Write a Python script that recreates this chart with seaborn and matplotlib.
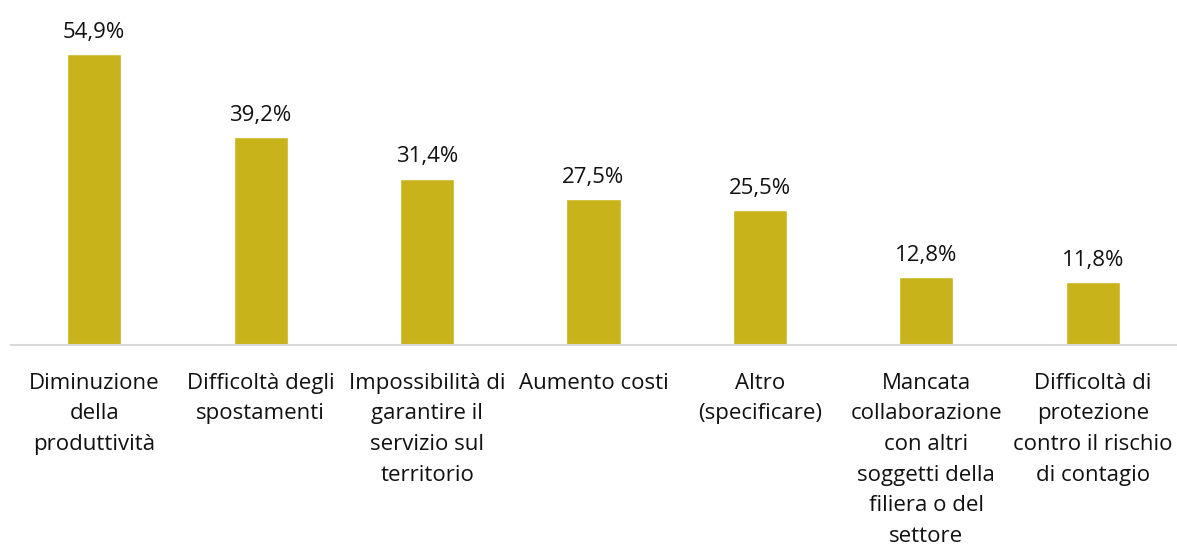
import matplotlib
matplotlib.use("Agg")
import matplotlib.pyplot as plt
import seaborn as sns
import pandas as pd

categories = [
    "Diminuzione\ndella\nproduttività",
    "Difficoltà degli\nspostamenti",
    "Impossibilità di\ngarantire il\nservizio sul\nterritorio",
    "Aumento costi",
    "Altro\n(specificare)",
    "Mancata\ncollaborazione\ncon altri\nsoggetti della\nfiliera o del\nsettore",
    "Difficoltà di\nprotezione\ncontro il rischio\ndi contagio",
]
values = [54.9, 39.2, 31.4, 27.5, 25.5, 12.8, 11.8]

sns.set_style("white")
plt.rcParams["font.family"] = ["Open Sans", "DejaVu Sans"]

df = pd.DataFrame({"cat": categories, "val": values})

fig = plt.figure(figsize=(11.77, 5.49), dpi=100)
ax = fig.add_axes([11 / 1177, 1 - 345 / 549, 1165 / 1177, 318 / 549])
sns.barplot(data=df, x="cat", y="val", color="#C8B41A", width=0.325,
            saturation=1, ax=ax)

for i, v in enumerate(values):
    ax.annotate(f"{v:.1f}%".replace(".", ","), (i, v), xytext=(0, 8),
                textcoords="offset points", ha="center", va="bottom",
                fontsize=16, color="#111111")

ax.set_xlim(-0.5, len(values) - 0.5)
ax.set_ylim(0, 60)
ax.set_xlabel("")
ax.set_ylabel("")
ax.set_yticks([])
ax.tick_params(axis="x", length=0, pad=20, labelsize=16, labelcolor="#111111")
for lbl in ax.get_xticklabels():
    lbl.set_linespacing(1.6)
    lbl.set_va("top")
for s in ["top", "right", "left"]:
    ax.spines[s].set_visible(False)
ax.spines["bottom"].set_color("#D9D9D9")
ax.spines["bottom"].set_linewidth(1.5)

fig.savefig("out.png", dpi=100)
